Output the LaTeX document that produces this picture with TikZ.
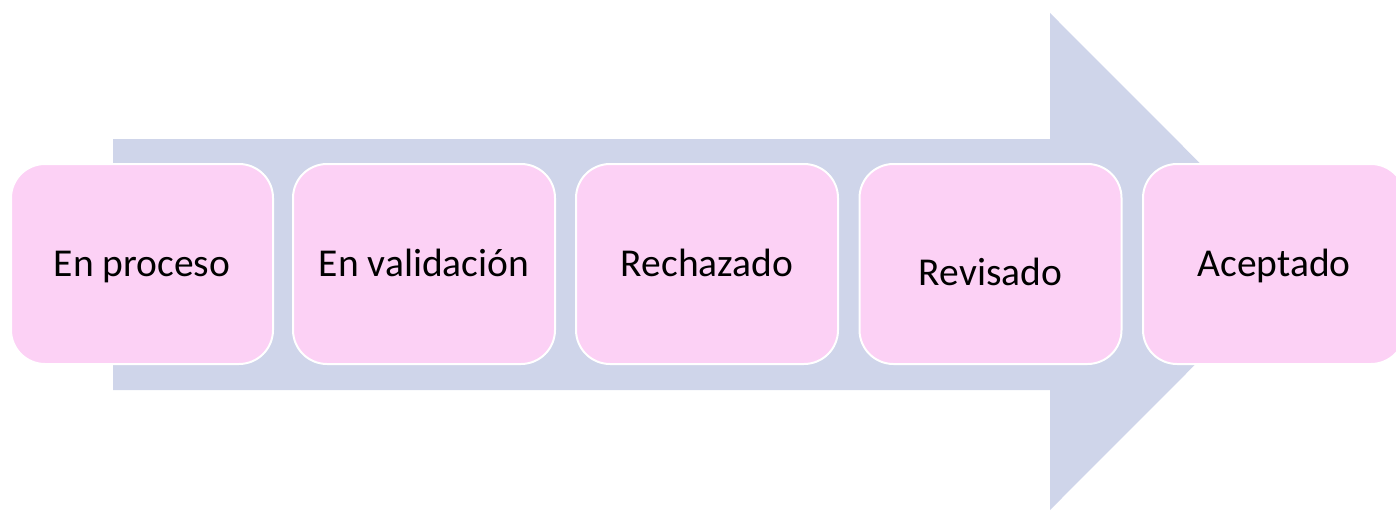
\documentclass[tikz,border=0pt]{standalone}
\usepackage{fontspec}
\setmainfont{Carlito}
\definecolor{arrowfill}{HTML}{CFD5EA}
\definecolor{boxfill}{HTML}{FCD1F5}
\tikzset{
  stagebox/.style={draw=white, line width=2pt, fill=boxfill, rounded corners=34pt,
    minimum width=262pt, minimum height=200pt, inner sep=0pt,
    text height=24pt, text depth=0pt,
    font=\fontsize{39.5}{46}\selectfont, text=black},
}
\begin{document}
\begin{tikzpicture}[x=1pt,y=-1pt]
\useasboundingbox (0,0) rectangle (1396,511);
\clip (0,0) rectangle (1396,511);
\fill[arrowfill] (113,139) -- (1050,139) -- (1050,13) -- (1298,261.5) -- (1050,510) -- (1050,390) -- (113,390) -- cycle;
\node[stagebox] (s1) at (142,264) {En proceso};
\node[stagebox] (s2) at (424,264) {En validación};
\node[stagebox] (s3) at (707,264) {Rechazado};
\node[stagebox, text height=42pt] (s4) at (990.5,264) {Revisado};
\node[stagebox] (s5) at (1274,264) {Aceptado};
\end{tikzpicture}
\end{document}
